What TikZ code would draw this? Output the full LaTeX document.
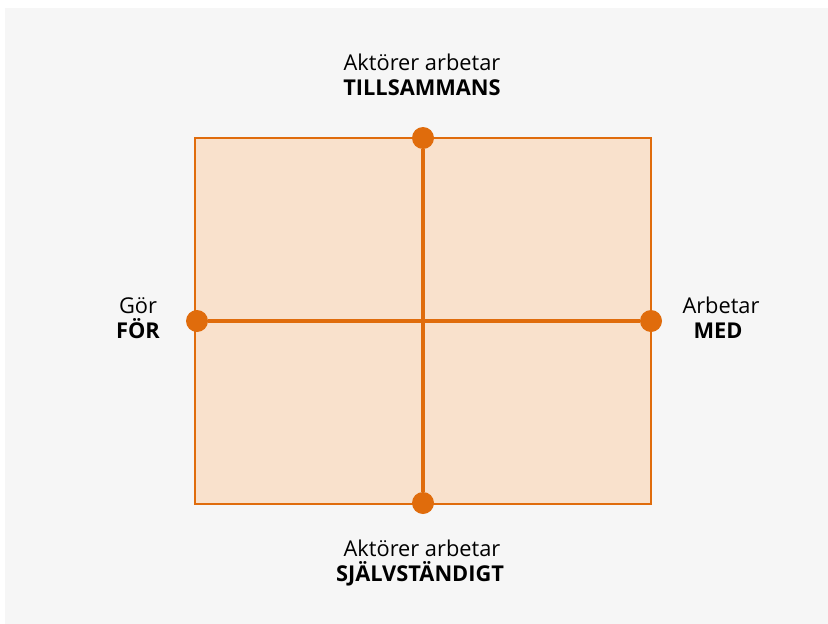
\documentclass[tikz,border=0pt]{standalone}
\usepackage{fontspec}
\setmainfont{Open Sans}
\definecolor{bggray}{HTML}{F6F6F6}
\definecolor{orangeline}{HTML}{E06C0C}
\definecolor{orangefill}{HTML}{F9E1CC}
\begin{document}
\begin{tikzpicture}[x=1pt,y=-1pt,
  lbl/.style={font=\fontsize{21.8}{26}\selectfont, align=center, text=black, inner sep=0pt},
  dot/.style={circle, fill=orangeline, minimum size=22pt, inner sep=0pt},
  axisline/.style={draw=orangeline, line width=4pt}]
\useasboundingbox (0,0) rectangle (828,624);
\fill[white] (0,0) rectangle (828,624);
\fill[bggray] (5,8) rectangle (828,624);
\draw[orangeline, fill=orangefill, line width=2pt] (195,138) rectangle (651,504);
\coordinate (c) at (423,321);
\node[dot] (top) at (423,138) {};
\node[dot] (bot) at (423,503) {};
\node[dot] (left) at (197,321) {};
\node[dot] (right) at (651,321) {};
\draw[axisline] (top) -- (bot);
\draw[axisline] (left) -- (right);
\node[lbl, anchor=base] (t1) at (422,70) {Aktörer arbetar};
\node[lbl, anchor=base] (t2) at (422,95) {\bfseries TILLSAMMANS};
\node[lbl, anchor=base] (b1) at (422,556) {Aktörer arbetar};
\node[lbl, anchor=base] (b2) at (420,581) {\bfseries SJÄLVSTÄNDIGT};
\node[lbl, anchor=base] (l1) at (138,313) {Gör};
\node[lbl, anchor=base] (l2) at (138,338) {\bfseries FÖR};
\node[lbl, anchor=base] (r1) at (721,313) {Arbetar};
\node[lbl, anchor=base] (r2) at (718,338) {\bfseries MED};
\end{tikzpicture}
\end{document}
